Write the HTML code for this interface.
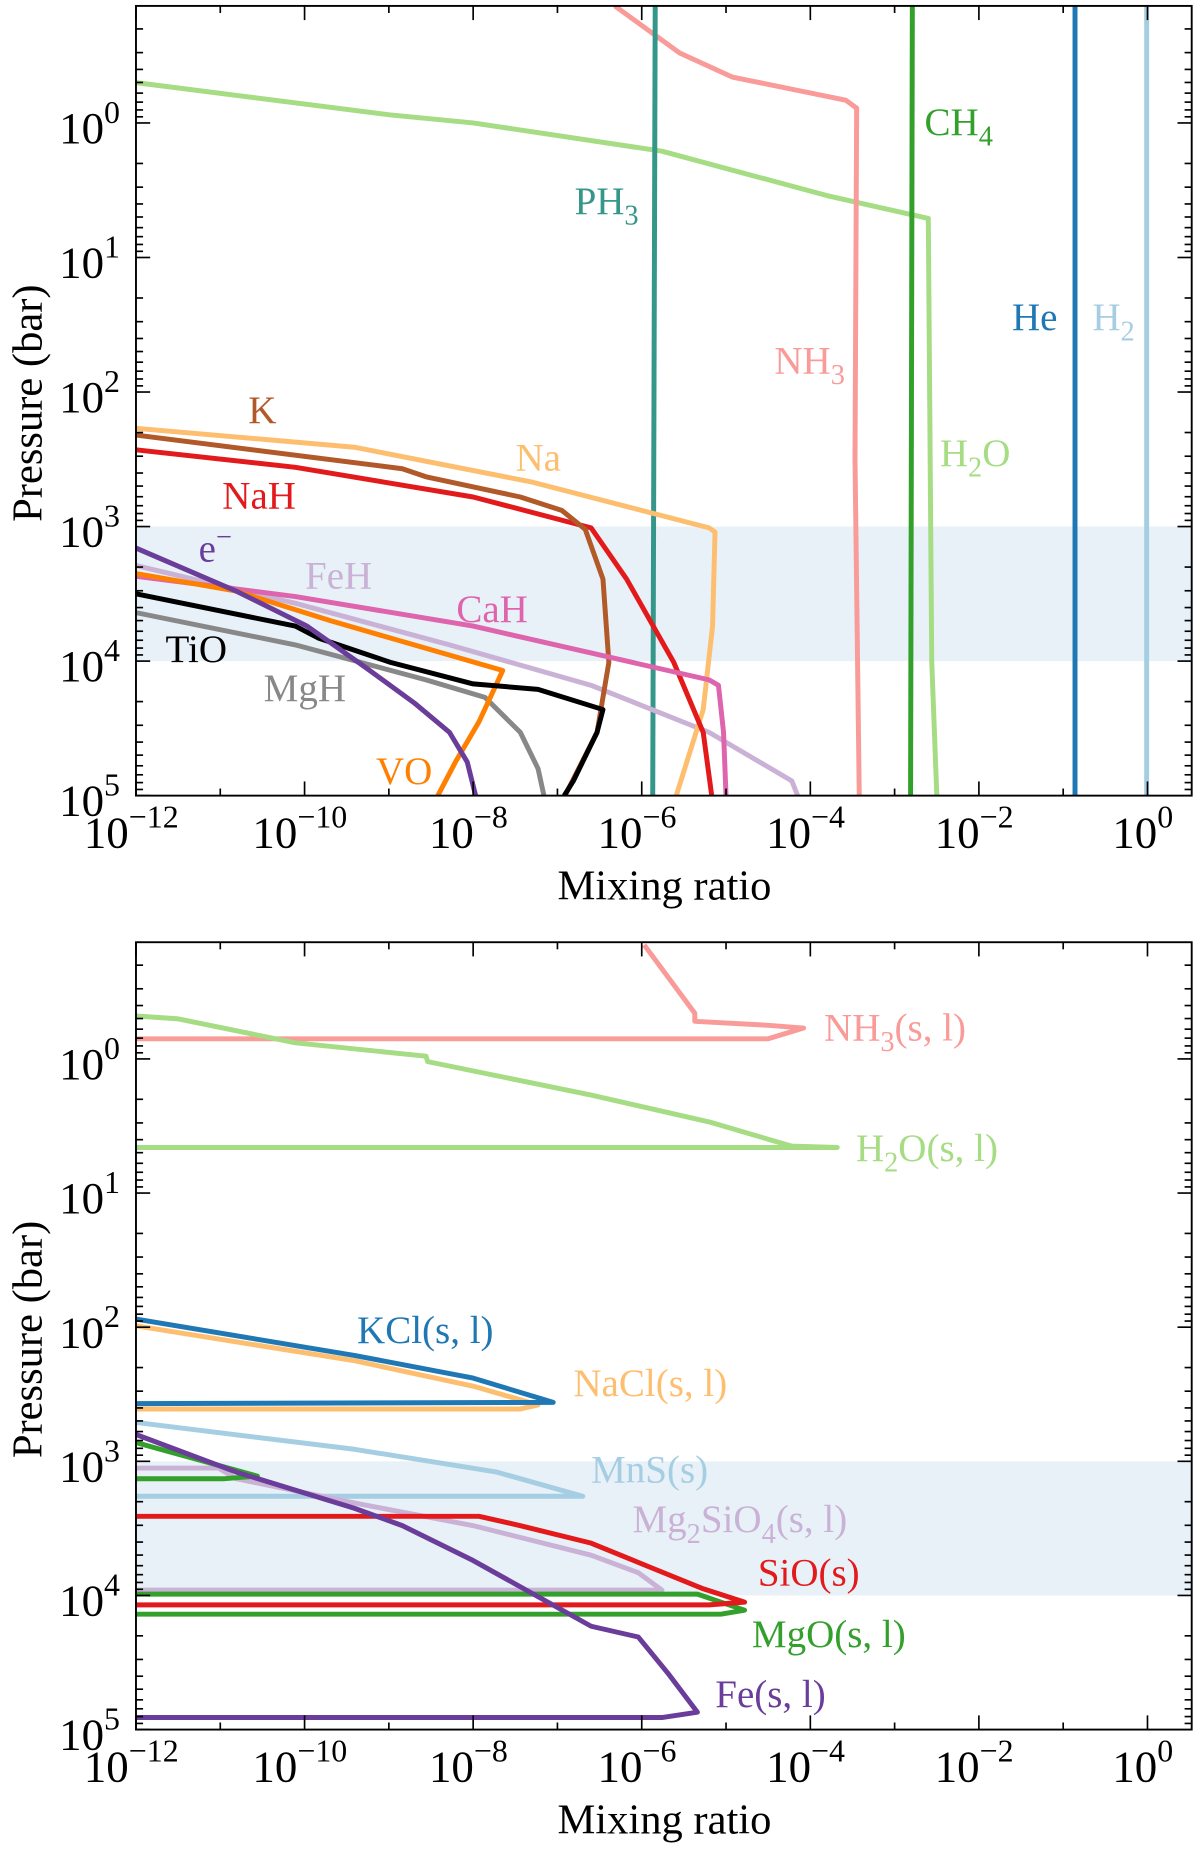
<!DOCTYPE html>
<html><head><meta charset="utf-8"><style>
html,body{margin:0;padding:0;background:#fff}
svg{display:block}
svg text{font-family:"Liberation Serif","Times New Roman",serif}
</style></head><body>
<svg id="fig" width="1200" height="1853" viewBox="0 0 1015 1567.4" xmlns="http://www.w3.org/2000/svg"></svg>
<script>
// ---- data: [log10 mixing ratio, log10 pressure] ----
const gasNames = ["H2O","NH3","PH3","CH4","He","H2","Na","K","NaH","FeH","CaH","VO","TiO","MgH","e-"];
const gasH2O = [[-12,-0.30],[-8.98,-0.06],[-8.0,0],[-5.76,0.21],[-3.80,0.54],[-2.60,0.71],[-2.56,4.0],[-2.50,5]];
const gasNH3 = [[-6.32,-0.87],[-5.55,-0.52],[-4.92,-0.34],[-3.58,-0.17],[-3.45,-0.11],[-3.47,2.5],[-3.42,5]];
const gasPH3 = [[-5.84,-0.87],[-5.87,5]];
const gasCH4 = [[-2.79,-0.87],[-2.81,5]];
const gasHe = [[-0.86,-0.87],[-0.86,5]];
const gasH2 = [[-0.01,-0.87],[-0.01,5]];
const gasNa = [[-12,2.27],[-9.41,2.41],[-7.30,2.67],[-5.20,3.01],[-5.13,3.04],[-5.16,3.74],[-5.27,4.36],[-5.59,5]];
const gasK = [[-12,2.32],[-8.84,2.57],[-8.56,2.63],[-7.44,2.78],[-6.95,2.88],[-6.67,3.02],[-6.46,3.39],[-6.39,4.01],[-6.53,4.53],[-6.91,5]];
const gasNaH = [[-12,2.43],[-10.11,2.56],[-8.0,2.78],[-6.60,3.01],[-6.18,3.39],[-5.62,4.01],[-5.27,4.53],[-5.17,5]];
const gasFeH = [[-12,3.29],[-10.11,3.57],[-8.28,3.88],[-6.60,4.18],[-5.20,4.53],[-4.22,4.89],[-4.15,5]];
const gasCaH = [[-12,3.37],[-10.11,3.52],[-8.0,3.74],[-5.20,4.14],[-5.09,4.18],[-5.03,4.53],[-5.0,5]];
const gasVO = [[-12,3.35],[-10.81,3.48],[-9.69,3.70],[-8.70,3.88],[-7.65,4.07],[-7.93,4.45],[-8.21,4.75],[-8.42,5]];
const gasTiO = [[-12,3.50],[-10.11,3.74],[-9.83,3.83],[-8.98,4.01],[-8.0,4.17],[-7.23,4.21],[-6.46,4.36],[-6.53,4.53],[-6.81,4.89],[-6.92,5]];
const gasMgH = [[-12,3.64],[-10.11,3.88],[-8.56,4.14],[-7.86,4.27],[-7.44,4.53],[-7.23,4.80],[-7.16,5]];
const gasE = [[-12,3.16],[-10.81,3.48],[-9.97,3.74],[-9.27,4.05],[-8.70,4.31],[-8.28,4.53],[-8.07,4.75],[-7.97,5]];

const cldNH3 = [[-5.97,-0.85],[-5.37,-0.34],[-5.37,-0.28],[-4.50,-0.25],[-4.08,-0.23],[-4.50,-0.15],[-12,-0.15]];
const cldH2O = [[-12,-0.32],[-11.51,-0.30],[-10.11,-0.12],[-8.56,-0.02],[-8.54,0.02],[-6.60,0.27],[-5.20,0.47],[-4.22,0.65],[-3.68,0.66],[-12,0.66]];
const cldKCl = [[-12,1.94],[-9.41,2.21],[-8.0,2.38],[-7.05,2.56],[-12,2.57]];
const cldNaCl = [[-12,1.99],[-9.41,2.25],[-8.0,2.44],[-7.23,2.58],[-7.44,2.61],[-12,2.61]];
const cldMnS = [[-12,2.71],[-9.41,2.91],[-7.72,3.08],[-6.70,3.26],[-12,3.26]];
const cldMgOa = [[-12,2.86],[-10.56,3.11],[-10.95,3.13],[-12,3.13]];
const cldMgOb = [[-12,3.99],[-5.34,3.99],[-4.78,4.11],[-5.06,4.14],[-12,4.14]];
const cldSiO = [[-12,3.41],[-7.93,3.41],[-7.44,3.48],[-6.60,3.61],[-5.90,3.79],[-5.27,3.95],[-4.78,4.05],[-5.20,4.07],[-12,4.07]];
const cldMg2SiO4 = [[-12,3.05],[-11.02,3.05],[-10.81,3.13],[-9.41,3.31],[-8.0,3.48],[-6.60,3.70],[-6.04,3.83],[-5.76,3.96],[-12,3.96]];
const cldFe = [[-12,2.80],[-10.81,3.08],[-9.41,3.35],[-8.84,3.48],[-8.0,3.74],[-6.60,4.23],[-6.04,4.31],[-5.69,4.58],[-5.34,4.87],[-5.76,4.91],[-12,4.91]];

const xTicks = [-12,-10,-8,-6,-4,-2,0];
const yTicks = [0,1,2,3,4,5];

const NS="http://www.w3.org/2000/svg";
const svg=document.getElementById('fig');
const X0=115,X1=1008,XD=71.3,XMIN=-12;
function sx(l){return X0+(l-XMIN)*XD;}
function mk(tag,attrs,parent){const e=document.createElementNS(NS,tag);for(const k in attrs)e.setAttribute(k,attrs[k]);(parent||svg).appendChild(e);return e;}

function panel(top,bot,name,series,labels){
  const g=mk('g',{});
  
  
  const YD=(bot-top)/5.87;
  const sy=l=>bot-(5-l)*YD;
  const band=mk('rect',{x:X0,y:sy(3),width:X1-X0,height:sy(4)-sy(3),fill:'#e8f1f7'},g);
  
  
  const cl=mk('clipPath',{id:'c'+name},g);
  mk('rect',{x:X0,y:top,width:X1-X0,height:bot-top},cl);
  const lg=mk('g',{'clip-path':'url(#c'+name+')'},g);
  series.forEach(s=>{
    const d=s.pts.map((p,i)=>(i?'L':'M')+sx(p[0]).toFixed(1)+','+sy(p[1]).toFixed(1)).join(' ');
    const p=mk('path',{d:d,fill:'none',stroke:s.c,'stroke-width':4.2,'stroke-linejoin':'round'},lg);
    
    
  });
  const fr=mk('rect',{x:X0,y:top,width:X1-X0,height:bot-top,fill:'none',stroke:'#000','stroke-width':1.6},g);
  
  
  for(let l=-12;l<=0;l++){
    const len=(l%2===0)?12:6,x=sx(l);
    mk('line',{x1:x,y1:bot,x2:x,y2:bot-len,stroke:'#000','stroke-width':1.4},g);
    mk('line',{x1:x,y1:top,x2:x,y2:top+len,stroke:'#000','stroke-width':1.4},g);
  }
  xTicks.forEach(l=>{
    const t=mk('text',{x:sx(l)-4,y:bot+44,'font-size':38,'text-anchor':'middle'},g);
    
    
    t.textContent='10';
    const s=mk('tspan',{dy:-17,'font-size':27},t);s.textContent=(l<0?'\u2212'+(-l):''+l);
  });
  for(let d=-1;d<=4;d++){
    for(let m=1;m<=9;m++){
      const l=d+Math.log10(m);
      if(l<-0.87||l>5)continue;
      const len=m===1?12:6,y=sy(l);
      mk('line',{x1:X0,y1:y,x2:X0+len,y2:y,stroke:'#000','stroke-width':1.4},g);
      mk('line',{x1:X1,y1:y,x2:X1-len,y2:y,stroke:'#000','stroke-width':1.4},g);
    }
  }
  mk('line',{x1:X0,y1:sy(5),x2:X0+12,y2:sy(5),stroke:'#000','stroke-width':1.4},g);
  yTicks.forEach(l=>{
    const t=mk('text',{x:50,y:sy(l)+17,'font-size':38},g);
    
    
    t.textContent='10';
    const s=mk('tspan',{dy:-17,'font-size':27},t);s.textContent=''+l;
  });
  const xt=mk('text',{x:562,y:bot+88,'font-size':36,'text-anchor':'middle'},g);
  
  
  xt.textContent='Mixing ratio';
  const yt=mk('text',{x:0,y:0,'font-size':36,'text-anchor':'middle',transform:'translate(35,'+(top+336)+') rotate(-90)'},g);
  
  
  yt.textContent='Pressure (bar)';
  labels.forEach(L=>{
    const t=mk('text',{x:L.x,y:L.y+(top-5),'font-size':33,fill:L.c},g);
    
    
    L.parts.forEach(p=>{
      if(typeof p==='string'){t.appendChild(document.createTextNode(p));}
      else{const s=mk('tspan',{dy:p.dy,'font-size':p.fs},t);s.textContent=p.t;}
    });
  });
}
panel(5,673,'top-panel',[
  {n:'H2O',c:'#a6dc84',pts:gasH2O},{n:'NH3',c:'#f99b98',pts:gasNH3},{n:'PH3',c:'#35968a',pts:gasPH3},
  {n:'CH4',c:'#33a02c',pts:gasCH4},{n:'He',c:'#1f78b4',pts:gasHe},{n:'H2',c:'#a6cee3',pts:gasH2},
  {n:'FeH',c:'#cab2d6',pts:gasFeH},{n:'Na',c:'#fdbf6f',pts:gasNa},{n:'NaH',c:'#e31a1c',pts:gasNaH},
  {n:'K',c:'#b15928',pts:gasK},{n:'CaH',c:'#de64ad',pts:gasCaH},{n:'MgH',c:'#888888',pts:gasMgH},
  {n:'VO',c:'#ff7f00',pts:gasVO},{n:'TiO',c:'#000000',pts:gasTiO},{n:'e-',c:'#6a3d9a',pts:gasE}
],[
  {n:'K',x:210,y:358,c:'#b15928',parts:['K']},
  {n:'Na',x:436,y:398,c:'#fdbf6f',parts:['Na']},
  {n:'NaH',x:188,y:430,c:'#e31a1c',parts:['NaH']},
  {n:'e',x:168,y:475,c:'#6a3d9a',parts:['e',{t:'\u2212',dy:-13,fs:24}]},
  {n:'FeH',x:258,y:498,c:'#cab2d6',parts:['FeH']},
  {n:'CaH',x:386,y:526,c:'#de64ad',parts:['CaH']},
  {n:'TiO',x:140,y:560,c:'#000',parts:['TiO']},
  {n:'MgH',x:223,y:593,c:'#888',parts:['MgH']},
  {n:'VO',x:318,y:663,c:'#ff7f00',parts:['VO']},
  {n:'PH3',x:486,y:181,c:'#35968a',parts:['PH',{t:'3',dy:9,fs:24}]},
  {n:'NH3',x:655,y:316,c:'#f99b98',parts:['NH',{t:'3',dy:9,fs:24}]},
  {n:'CH4',x:782,y:114,c:'#33a02c',parts:['CH',{t:'4',dy:9,fs:24}]},
  {n:'H2O',x:795,y:394,c:'#a6dc84',parts:['H',{t:'2',dy:9,fs:24},{t:'O',dy:-9,fs:33}]},
  {n:'He',x:856,y:279,c:'#1f78b4',parts:['He']},
  {n:'H2',x:924,y:279,c:'#a6cee3',parts:['H',{t:'2',dy:9,fs:24}]}
]);
panel(797,1463,'bottom-panel',[
  {n:'NH3-cloud',c:'#f99b98',pts:cldNH3},{n:'H2O-cloud',c:'#a6dc84',pts:cldH2O},
  {n:'NaCl-cloud',c:'#fdbf6f',pts:cldNaCl},{n:'KCl-cloud',c:'#1f78b4',pts:cldKCl},
  {n:'MnS-cloud',c:'#a6cee3',pts:cldMnS},{n:'Mg2SiO4-cloud',c:'#cab2d6',pts:cldMg2SiO4},
  {n:'MgO-cloud-a',c:'#33a02c',pts:cldMgOa},{n:'MgO-cloud-b',c:'#33a02c',pts:cldMgOb},
  {n:'SiO-cloud',c:'#e31a1c',pts:cldSiO},{n:'Fe-cloud',c:'#6a3d9a',pts:cldFe}
],[
  {n:'NH3sl',x:697,y:88,c:'#f99b98',parts:['NH',{t:'3',dy:9,fs:24},{t:'(s, l)',dy:-9,fs:33}]},
  {n:'H2Osl',x:724,y:190,c:'#a6dc84',parts:['H',{t:'2',dy:9,fs:24},{t:'O(s, l)',dy:-9,fs:33}]},
  {n:'KClsl',x:302,y:344,c:'#1f78b4',parts:['KCl(s, l)']},
  {n:'NaClsl',x:485,y:389,c:'#fdbf6f',parts:['NaCl(s, l)']},
  {n:'MnSs',x:500,y:462,c:'#a6cee3',parts:['MnS(s)']},
  {n:'Mg2SiO4sl',x:535,y:504,c:'#cab2d6',parts:['Mg',{t:'2',dy:9,fs:24},{t:'SiO',dy:-9,fs:33},{t:'4',dy:9,fs:24},{t:'(s, l)',dy:-9,fs:33}]},
  {n:'SiOs',x:641,y:549,c:'#e31a1c',parts:['SiO(s)']},
  {n:'MgOsl',x:636,y:601,c:'#33a02c',parts:['MgO(s, l)']},
  {n:'Fesl',x:605,y:652,c:'#6a3d9a',parts:['Fe(s, l)']}
]);
</script>
</body></html>
